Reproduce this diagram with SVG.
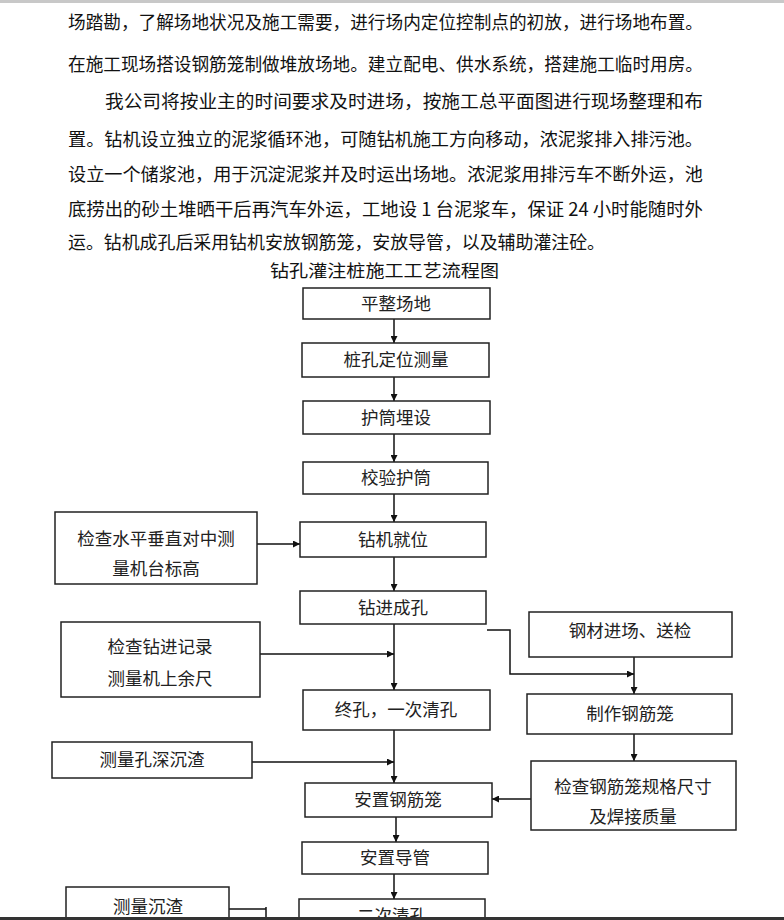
<svg xmlns="http://www.w3.org/2000/svg" width="784" height="920" viewBox="0 0 784 920">
<defs>
<style>
.body{font-family:"Noto Sans CJK SC","Liberation Serif",serif;font-size:18px;fill:#111}
.t{font-family:"Noto Sans CJK SC","Liberation Sans",sans-serif;font-size:17.5px;fill:#222;text-anchor:middle}
.box{fill:#fff;stroke:#222;stroke-width:1.5}
.ln{fill:none;stroke:#111;stroke-width:1.5}
</style>
<marker id="ar" viewBox="0 0 10 10" refX="10" refY="5" markerWidth="7" markerHeight="7" orient="auto" markerUnits="userSpaceOnUse">
<path d="M0,0 L10,5 L0,10 z" fill="#111"/>
</marker>
</defs>
<rect x="0" y="0" width="784" height="920" fill="#fff"/>
<rect x="0" y="0" width="784" height="3" fill="#c8c8c8"/>

<g id="bodytext">
<text class="body" x="68" y="29" textLength="635" lengthAdjust="spacingAndGlyphs">场踏勘，了解场地状况及施工需要，进行场内定位控制点的初放，进行场地布置。</text>
<text class="body" x="68" y="71" textLength="635" lengthAdjust="spacingAndGlyphs">在施工现场搭设钢筋笼制做堆放场地。建立配电、供水系统，搭建施工临时用房。</text>
<text class="body" x="105" y="108" textLength="598" lengthAdjust="spacingAndGlyphs">我公司将按业主的时间要求及时进场，按施工总平面图进行现场整理和布</text>
<text class="body" x="68" y="146" textLength="635" lengthAdjust="spacingAndGlyphs">置。钻机设立独立的泥浆循环池，可随钻机施工方向移动，浓泥浆排入排污池。</text>
<text class="body" x="68" y="181" textLength="635" lengthAdjust="spacingAndGlyphs">设立一个储浆池，用于沉淀泥浆并及时运出场地。浓泥浆用排污车不断外运，池</text>
<text class="body" x="68" y="216" textLength="635" lengthAdjust="spacingAndGlyphs">底捞出的砂土堆晒干后再汽车外运，工地设 1 台泥浆车，保证 24 小时能随时外</text>
<text class="body" x="68" y="249" textLength="537" lengthAdjust="spacingAndGlyphs">运。钻机成孔后采用钻机安放钢筋笼，安放导管，以及辅助灌注砼。</text>
<text class="body" x="270" y="277" textLength="229" lengthAdjust="spacingAndGlyphs" style="font-size:17px">钻孔灌注桩施工工艺流程图</text>
</g>

<g id="connectors">
<line class="ln" x1="394" y1="319" x2="394" y2="343" marker-end="url(#ar)"/>
<line class="ln" x1="394" y1="377" x2="394" y2="401" marker-end="url(#ar)"/>
<line class="ln" x1="394" y1="434" x2="394" y2="462" marker-end="url(#ar)"/>
<line class="ln" x1="394" y1="494" x2="394" y2="522" marker-end="url(#ar)"/>
<line class="ln" x1="257" y1="544" x2="300" y2="544" marker-end="url(#ar)"/>
<line class="ln" x1="394" y1="557" x2="394" y2="591" marker-end="url(#ar)"/>
<line class="ln" x1="394" y1="624" x2="394" y2="690" marker-end="url(#ar)"/>
<line class="ln" x1="260" y1="654" x2="394" y2="654" marker-end="url(#ar)"/>
<polyline class="ln" points="487,630 510,630 510,674 634,674" marker-end="url(#ar)"/>
<line class="ln" x1="634" y1="657" x2="634" y2="694" marker-end="url(#ar)"/>
<line class="ln" x1="634" y1="734" x2="634" y2="761" marker-end="url(#ar)"/>
<line class="ln" x1="394" y1="730" x2="394" y2="783" marker-end="url(#ar)"/>
<line class="ln" x1="252" y1="762" x2="394" y2="762" marker-end="url(#ar)"/>
<line class="ln" x1="531" y1="799" x2="492" y2="799" marker-end="url(#ar)"/>
<line class="ln" x1="396" y1="817" x2="396" y2="842" marker-end="url(#ar)"/>
<line class="ln" x1="394" y1="874" x2="394" y2="899" marker-end="url(#ar)"/>
<polyline class="ln" points="229,909 266,909"/>
<line class="ln" x1="266" y1="907" x2="266" y2="920"/>
</g>

<g id="n1"><rect class="box" x="303" y="288" width="187" height="31"/><text class="t" x="396" y="310">平整场地</text></g>
<g id="n2"><rect class="box" x="302" y="343" width="187" height="34"/><text class="t" x="396" y="366">桩孔定位测量</text></g>
<g id="n3"><rect class="box" x="303" y="401" width="187" height="33"/><text class="t" x="396" y="424">护筒埋设</text></g>
<g id="n4"><rect class="box" x="303" y="462" width="185" height="32"/><text class="t" x="396" y="484">校验护筒</text></g>
<g id="n5"><rect class="box" x="300" y="522" width="186" height="35"/><text class="t" x="393" y="546">钻机就位</text></g>
<g id="n6"><rect class="box" x="55" y="512" width="202" height="72"/><text class="t" x="156" y="545">检查水平垂直对中测</text><text class="t" x="156" y="575">量机台标高</text></g>
<g id="n7"><rect class="box" x="300" y="591" width="186" height="33"/><text class="t" x="393" y="614">钻进成孔</text></g>
<g id="n8"><rect class="box" x="61" y="622" width="199" height="75"/><text class="t" x="160" y="653">检查钻进记录</text><text class="t" x="160" y="685">测量机上余尺</text></g>
<g id="n9"><rect class="box" x="303" y="690" width="187" height="40"/><text class="t" x="396" y="716">终孔，一次清孔</text></g>
<g id="n10"><rect class="box" x="52" y="742" width="200" height="36"/><text class="t" x="152" y="766">测量孔深沉渣</text></g>
<g id="n11"><rect class="box" x="305" y="783" width="187" height="34"/><text class="t" x="398" y="806">安置钢筋笼</text></g>
<g id="n12"><rect class="box" x="302" y="842" width="186" height="32"/><text class="t" x="395" y="864">安置导管</text></g>
<g id="n13"><rect class="box" x="299" y="899" width="186" height="40"/><text class="t" x="392" y="922">二次清孔</text></g>
<g id="n14"><rect class="box" x="66" y="887" width="163" height="50"/><text class="t" x="148" y="913">测量沉渣</text></g>
<g id="n15"><rect class="box" x="529" y="612" width="203" height="45"/><text class="t" x="630" y="637">钢材进场、送检</text></g>
<g id="n16"><rect class="box" x="527" y="694" width="205" height="40"/><text class="t" x="630" y="720">制作钢筋笼</text></g>
<g id="n17"><rect class="box" x="531" y="761" width="205" height="69"/><text class="t" x="633" y="793">检查钢筋笼规格尺寸</text><text class="t" x="633" y="823">及焊接质量</text></g>

<rect x="0" y="917" width="784" height="3" fill="#333"/>
</svg>
